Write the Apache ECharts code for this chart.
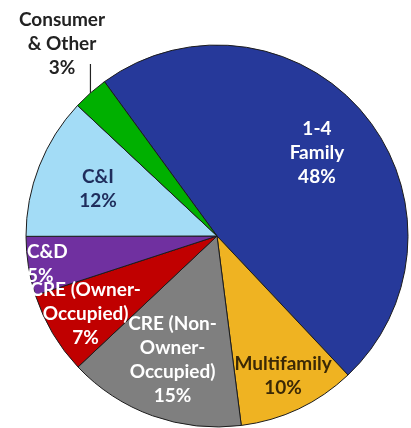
<!DOCTYPE html>
<html>
<head>
<meta charset="utf-8">
<script src="https://cdn.jsdelivr.net/npm/echarts@6/dist/echarts.min.js"></script>
<style>
  html, body { margin: 0; padding: 0; background: #fff; }
  #chart { width: 411px; height: 428px; }
</style>
</head>
<body>
<div id="chart"></div>
<script>
// slices, clockwise from the upper-left edge of the big blue slice
const categories = ['1-4\nFamily', 'Multifamily', 'CRE (Non-\nOwner-\nOccupied)', 'CRE (Owner-\nOccupied)', 'C&D', 'C&I', 'Consumer\n& Other'];
const shares = [48, 10, 15, 7, 5, 12, 3];
const colors = ['#26399a', '#efb322', '#7f7f7f', '#c00000', '#7030a0', '#a3dcf6', '#00b000'];
const labelColors = ['#ffffff', '#3a2806', '#ffffff', '#ffffff', '#ffffff', '#1f2d5c', '#222222'];
// how far out (fraction of radius) each label sits along its slice's middle
const labelDist = [0.68, 0.81, 0.69, 0.80, 0.91, 0.67, 0];

const cx = 217, cy = 236, R = 191;
const startAngle = 126.1;

const total = shares.reduce((a, b) => a + b, 0);
const midAngles = [];
let acc = 0;
shares.forEach(v => {
    // degrees clockwise from 12 o'clock
    midAngles.push((90 - startAngle) + 360 * (acc + v / 2) / total);
    acc += v;
});

const chart = echarts.init(document.getElementById('chart'));

chart.setOption({
    animation: false,
    series: [{
        type: 'pie',
        center: [cx, cy],
        radius: [0, R],
        startAngle: startAngle,
        clockwise: true,
        avoidLabelOverlap: false,
        itemStyle: { borderColor: '#1c1c1c', borderWidth: 1 },
        label: {
            position: 'inside',
            formatter: '{b}\n{c}%',
            fontFamily: 'Lato',
            fontWeight: 'bold',
            fontSize: 19,
            lineHeight: 24
        },
        labelLine: { show: false },
        labelLayout: function (p) {
            const i = p.dataIndex;
            const a = midAngles[i] * Math.PI / 180;
            if (i === shares.length - 1) {
                const ex = cx + R * Math.sin(a), ey = cy - R * Math.cos(a);
                return {
                    x: 62, y: 44, align: 'center', verticalAlign: 'middle',
                    labelLinePoints: [[ex, ey], [ex, 64], [ex, 64]]
                };
            }
            const x = cx + labelDist[i] * R * Math.sin(a);
            const y = cy - labelDist[i] * R * Math.cos(a);
            if (categories[i] === 'C&D') {
                return { x: 27, y: y, align: 'left', verticalAlign: 'middle' };
            }
            return { x: x, y: y, align: 'center', verticalAlign: 'middle' };
        },
        data: categories.map((name, i) => {
            const item = {
                name: name,
                value: shares[i],
                itemStyle: { color: colors[i] },
                label: { color: labelColors[i] }
            };
            if (i === shares.length - 1) {
                item.label.position = 'outside';
                item.labelLine = { show: true, lineStyle: { color: '#222', width: 1.2 } };
            }
            return item;
        })
    }]
});
</script>
</body>
</html>
